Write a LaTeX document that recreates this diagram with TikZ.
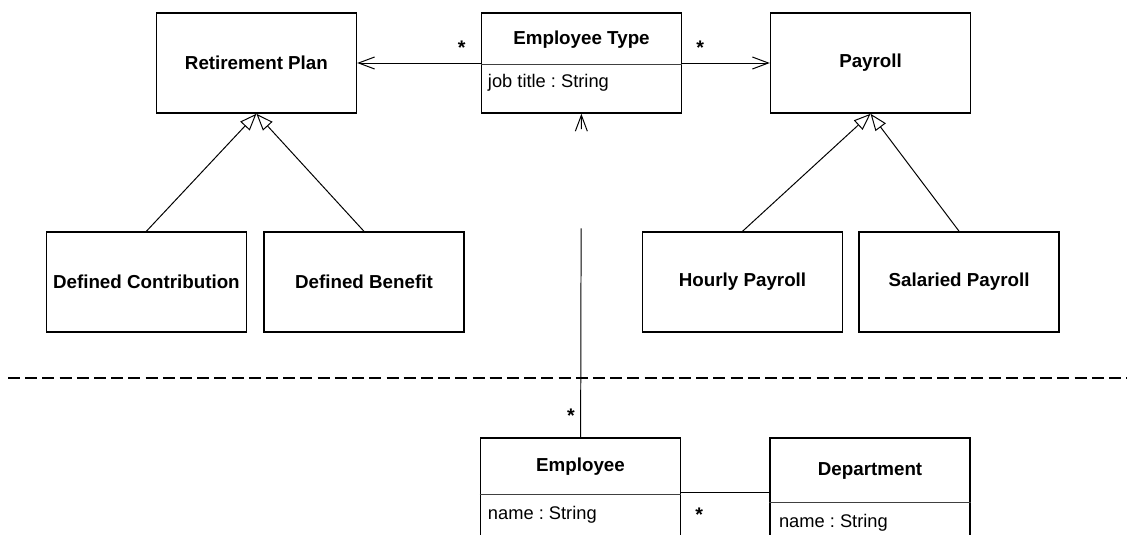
\documentclass[tikz,border=0pt]{standalone}
\usepackage{fontspec}
\setmainfont{Liberation Sans}
\frenchspacing
\usetikzlibrary{arrows.meta, positioning}
\begin{document}
\begin{tikzpicture}[
        x=0.025cm, y=-0.025cm,
        cls/.style={draw, line width=1.1pt, minimum width=5cm, minimum height=2.5cm, inner sep=0pt, font=\fontsize{13.35}{15}\selectfont\bfseries},
        tail/.style={cls, minimum height=2.7cm},
        ttl/.style={inner sep=0pt, anchor=base, font=\fontsize{13.35}{15}\selectfont\bfseries},
        attr/.style={inner sep=0pt, anchor=base west, font=\fontsize{13}{15}\selectfont},
        mult/.style={inner sep=0pt, font=\fontsize{14}{15}\selectfont\bfseries},
        sep/.style={line width=0.7pt, black!75},
        assoc/.style={-{Straight Barb[length=0.4cm, width=0.3cm]}, line width=0.7pt},
        gen/.style={-{Triangle[open, length=0.42cm, width=0.32cm]}, line width=0.7pt},
        link/.style={line width=0.7pt}
    ]
        \useasboundingbox (0,0) rectangle (1127,534);
        \clip (0,0) rectangle (1127,534);

        % Top classes
        \node[cls] (et) at (581.5,63) {};
        \node[cls, left of=et, node distance=8.125cm] (rp) {Retirement Plan};
        \node[cls, right of=et, node distance=7.225cm] (py) {Payroll};

        % Subclasses
        \node[cls, below of=rp, node distance=5.475cm, xshift=-2.75cm] (dc) {Defined Contribution};
        \node[cls, below of=rp, node distance=5.475cm, xshift=2.6875cm] (db) {Defined Benefit};
        \node[cls, below of=py, node distance=5.475cm, xshift=-3.2cm] (hp) {Hourly Payroll};
        \node[cls, below of=py, node distance=5.475cm, xshift=2.2125cm] (sp) {Salaried Payroll};

        % Lower classes
        \node[tail, below of=et, node distance=10.725cm, xshift=-0.025cm] (emp) {};
        \node[tail, right of=emp, node distance=7.2375cm] (dep) {};

        % Compartments
        \node[ttl] (ett) at ([shift={(0,32)}]et.north) {Employee Type};
        \draw[sep] ([shift={(0,52)}]et.north west) -- ([shift={(0,52)}]et.north east);
        \node[attr] (eta) at ([shift={(7,75)}]et.north west) {job title : String};

        \node[ttl] (empt) at ([shift={(0,34)}]emp.north) {Employee};
        \draw[sep] ([shift={(0,57)}]emp.north west) -- ([shift={(0,57)}]emp.north east);
        \node[attr] (empa) at ([shift={(8,82)}]emp.north west) {name : String};

        \node[ttl] (dept) at ([shift={(0,38)}]dep.north) {Department};
        \draw[sep] ([shift={(0,65)}]dep.north west) -- ([shift={(0,65)}]dep.north east);
        \node[attr] (depa) at ([shift={(9.5,90)}]dep.north west) {name : String};

        % Separator
        \draw[line width=1.1pt, dash pattern=on 0.3cm off 0.13cm] (8,378) -- (1127,378);

        % Associations
        \draw[assoc] (et) -- (rp);
        \draw[assoc] (et) -- (py);
        \draw[assoc, dash pattern=on 5.225cm off 2.475cm on 2cm] (emp) -- (et);
        \draw[link] (emp) -- (dep);

        \node[mult] at ([shift={(-19,-15)}]et.west) {*};
        \node[mult] at ([shift={(18,-15)}]et.east) {*};
        \node[mult] at ([shift={(-9.5,-22)}]emp.north) {*};
        \node[mult] at ([shift={(18,23)}]emp.east) {*};

        % Generalizations
        \draw[gen] (dc.north) -- (rp.south);
        \draw[gen] (db.north) -- (rp.south);
        \draw[gen] (hp.north) -- (py.south);
        \draw[gen] (sp.north) -- (py.south);

    \end{tikzpicture}
\end{document}
